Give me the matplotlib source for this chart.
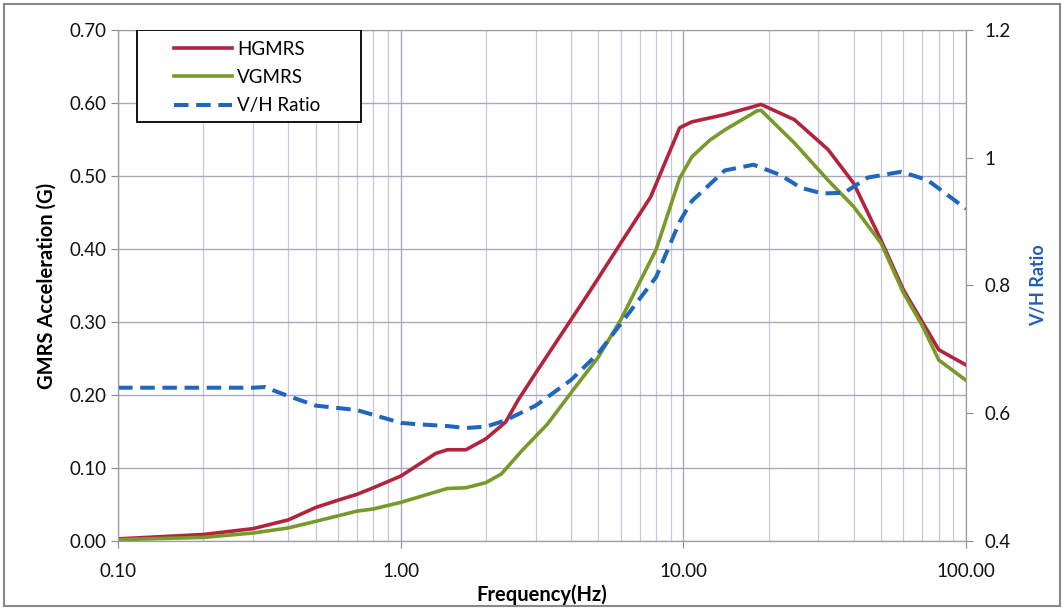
import numpy as np
import matplotlib.pyplot as plt
from matplotlib.patches import Rectangle
from matplotlib.ticker import FixedLocator, FixedFormatter, LogLocator, NullFormatter

plt.rcParams['font.family'] = ['Lato', 'DejaVu Sans']

# HGMRS spectrum (G)
freq_h = [0.1, 0.2, 0.3, 0.4, 0.5, 0.6, 0.7, 0.8, 1.0, 1.33, 1.46, 1.7, 2.0, 2.35,
          2.6, 3.0, 4.0, 4.7, 6.0, 7.65, 9.7, 10.7, 14.0, 17.7, 18.8, 24.7, 32.5,
          40.0, 50.0, 60.0, 70.0, 80.0, 100.0]
hgmrs = [0.003, 0.009, 0.017, 0.029, 0.046, 0.056, 0.064, 0.073, 0.089, 0.120, 0.125,
         0.125, 0.140, 0.163, 0.193, 0.230, 0.303, 0.344, 0.408, 0.471, 0.566, 0.574,
         0.584, 0.595, 0.598, 0.577, 0.536, 0.490, 0.412, 0.344, 0.300, 0.262, 0.241]

# VGMRS spectrum (G)
freq_v = [0.1, 0.2, 0.3, 0.4, 0.5, 0.7, 0.8, 1.0, 1.46, 1.7, 2.0, 2.27, 2.7, 3.3,
          4.0, 5.0, 6.0, 8.0, 9.7, 10.7, 12.4, 14.0, 18.2, 18.8, 24.7, 32.5, 40.0,
          50.0, 60.0, 70.0, 80.0, 100.0]
vgmrs = [0.002, 0.005, 0.011, 0.018, 0.027, 0.041, 0.044, 0.053, 0.072, 0.073, 0.080,
         0.092, 0.125, 0.160, 0.203, 0.252, 0.303, 0.399, 0.497, 0.526, 0.549, 0.563,
         0.589, 0.590, 0.545, 0.494, 0.458, 0.408, 0.340, 0.295, 0.248, 0.220]

# V/H ratio (right axis)
freq_r = [0.1, 0.2, 0.3, 0.33, 0.4, 0.5, 0.7, 1.0, 1.13, 1.46, 1.7, 2.0, 2.35, 3.0,
          4.0, 5.0, 6.0, 8.0, 9.7, 10.7, 14.0, 17.7, 22.0, 26.0, 31.0, 37.0, 45.0,
          59.0, 73.0, 100.0]
vh_ratio = [0.640, 0.640, 0.640, 0.641, 0.627, 0.612, 0.605, 0.585, 0.583, 0.580,
            0.577, 0.579, 0.589, 0.612, 0.652, 0.694, 0.740, 0.813, 0.900, 0.932,
            0.980, 0.989, 0.973, 0.953, 0.944, 0.945, 0.969, 0.978, 0.965, 0.920]

x_ticks = [0.1, 1, 10, 100]
x_labels = ['0.10', '1.00', '10.00', '100.00']
y_ticks = [0.0, 0.1, 0.2, 0.3, 0.4, 0.5, 0.6, 0.7]
y2_ticks = [0.4, 0.6, 0.8, 1.0, 1.2]
y2_labels = ['0.4', '0.6', '0.8', '1', '1.2']

fig = plt.figure(figsize=(10.64, 6.10), dpi=100)
ax1 = fig.add_axes([0.111, 0.113, 0.797, 0.838])
ax2 = ax1.twinx()

l1, = ax1.plot(freq_h, hgmrs, color='#b3233c', lw=2.6, label='HGMRS')
l2, = ax1.plot(freq_v, vgmrs, color='#789a2a', lw=2.6, label='VGMRS')
l3, = ax2.plot(freq_r, vh_ratio, color='#1f66bf', lw=2.9, ls=(0, (3.6, 1.9)), label='V/H Ratio')

ax1.set_xscale('log')
ax1.set_xlim(0.1, 100)
ax1.set_ylim(0, 0.7)
ax2.set_ylim(0.4, 1.2)

ax1.xaxis.set_major_locator(FixedLocator(x_ticks))
ax1.xaxis.set_major_formatter(FixedFormatter(x_labels))
ax1.xaxis.set_minor_locator(LogLocator(base=10, subs=np.arange(2, 10)))
ax1.xaxis.set_minor_formatter(NullFormatter())
ax1.set_yticks(y_ticks)
ax1.set_yticklabels([f'{v:.2f}' for v in y_ticks])
ax2.set_yticks(y2_ticks)
ax2.set_yticklabels(y2_labels)

ax1.grid(True, which='major', axis='both', color='#a9a9be', lw=1.0)
ax1.grid(True, which='minor', axis='x', color='#c8c8dc', lw=0.9)
ax1.set_axisbelow(True)

for ax in (ax1, ax2):
    for sp in ax.spines.values():
        sp.set_color('#9a9aa8')
    ax.tick_params(axis='both', which='both', length=5, color='#8a8a98',
                   labelsize=13.5, labelcolor='#111111')
ax1.tick_params(axis='x', which='minor', length=0)
ax1.tick_params(axis='x', which='major', pad=11)
ax2.tick_params(axis='y', pad=8)
ax2.spines['top'].set_visible(False)

ax1.set_xlabel('Frequency(Hz)', fontsize=14.5, fontweight='bold', labelpad=3)
ax1.set_ylabel('GMRS Acceleration (G)', fontsize=14.5, fontweight='bold', labelpad=9)
ax2.set_ylabel('V/H Ratio', fontsize=13, fontweight='bold', color='#1f5fb0', labelpad=14)

# legend frame drawn by hand so the padding matches the original box
ax1.add_patch(Rectangle((0.0224, 0.820), 0.2642, 0.180, transform=ax1.transAxes,
                        facecolor='white', edgecolor='black', lw=1.3, zorder=8))
leg = ax1.legend(handles=[l1, l2, l3], loc='upper left', bbox_to_anchor=(0.066, 0.979),
                 fontsize=13.5, frameon=False, handlelength=3.1, borderpad=0,
                 labelspacing=0.6, handletextpad=0.25, borderaxespad=0)
leg.set_zorder(10)

fig.patches.append(Rectangle((0.004, 0.006), 0.992, 0.988, transform=fig.transFigure,
                             fill=False, edgecolor='#888888', lw=1.5))

fig.savefig('out.png', dpi=100)
